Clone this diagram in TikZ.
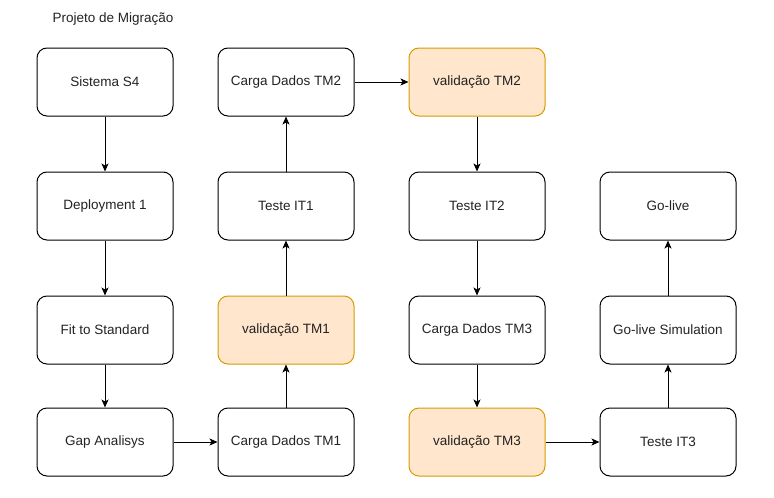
\documentclass[tikz,border=0pt]{standalone}
\usepackage{fontspec}
\setmainfont{Liberation Sans}
\usetikzlibrary{positioning,arrows.meta}
\definecolor{vfill}{HTML}{FFE6CC}
\definecolor{vdraw}{HTML}{D79B00}
\definecolor{txt}{HTML}{222222}

\begin{document}
\begin{tikzpicture}[x=1pt, y=-1pt, >={Stealth[length=8pt,width=7pt,inset=2pt]},
   b/.style={draw, line width=1pt, rounded corners=10pt, align=center,
     minimum width=136pt, minimum height=68pt, font=\fontsize{13.5}{16}\selectfont, text=txt},
   v/.style={b, draw=vdraw, fill=vfill},
   c/.style={->, line width=1pt}]
  \useasboundingbox (0,0) rectangle (774,498);
  \node[font=\fontsize{13.5}{16}\selectfont, text=txt] (title) at (113,19) {Projeto de Migração};
  % column 1
  \node[b] (s4)   at (105,82)  {Sistema S4};
  \node[b] (dep1) at (105,206) {Deployment 1};
  \node[b] (fit)  at (105,330) {Fit to Standard};
  \node[b] (gap)  at (105,442) {Gap Analisys};
  % column 2
  \node[b] (tm2)  at (286,82)  {Carga Dados TM2};
  \node[b] (it1)  at (286,206) {Teste IT1};
  \node[v] (val1) at (286,330) {validação TM1};
  \node[b] (tm1)  at (286,442) {Carga Dados TM1};
  % column 3
  \node[v] (val2) at (477,82)  {validação TM2};
  \node[b] (it2)  at (477,206) {Teste IT2};
  \node[b] (tm3)  at (477,330) {Carga Dados TM3};
  \node[v] (val3) at (477,442) {validação TM3};
  % column 4
  \node[b] (live) at (668,206) {Go-live};
  \node[b] (sim)  at (668,330) {Go-live Simulation};
  \node[b] (it3)  at (668,442) {Teste IT3};
  % flow
  \draw[c] (s4) -- (dep1);
  \draw[c] (dep1) -- (fit);
  \draw[c] (fit) -- (gap);
  \draw[c] (gap) -- (tm1);
  \draw[c] (tm1) -- (val1);
  \draw[c] (val1) -- (it1);
  \draw[c] (it1) -- (tm2);
  \draw[c] (tm2) -- (val2);
  \draw[c] (val2) -- (it2);
  \draw[c] (it2) -- (tm3);
  \draw[c] (tm3) -- (val3);
  \draw[c] (val3) -- (it3);
  \draw[c] (it3) -- (sim);
  \draw[c] (sim) -- (live);
\end{tikzpicture}
\end{document}
